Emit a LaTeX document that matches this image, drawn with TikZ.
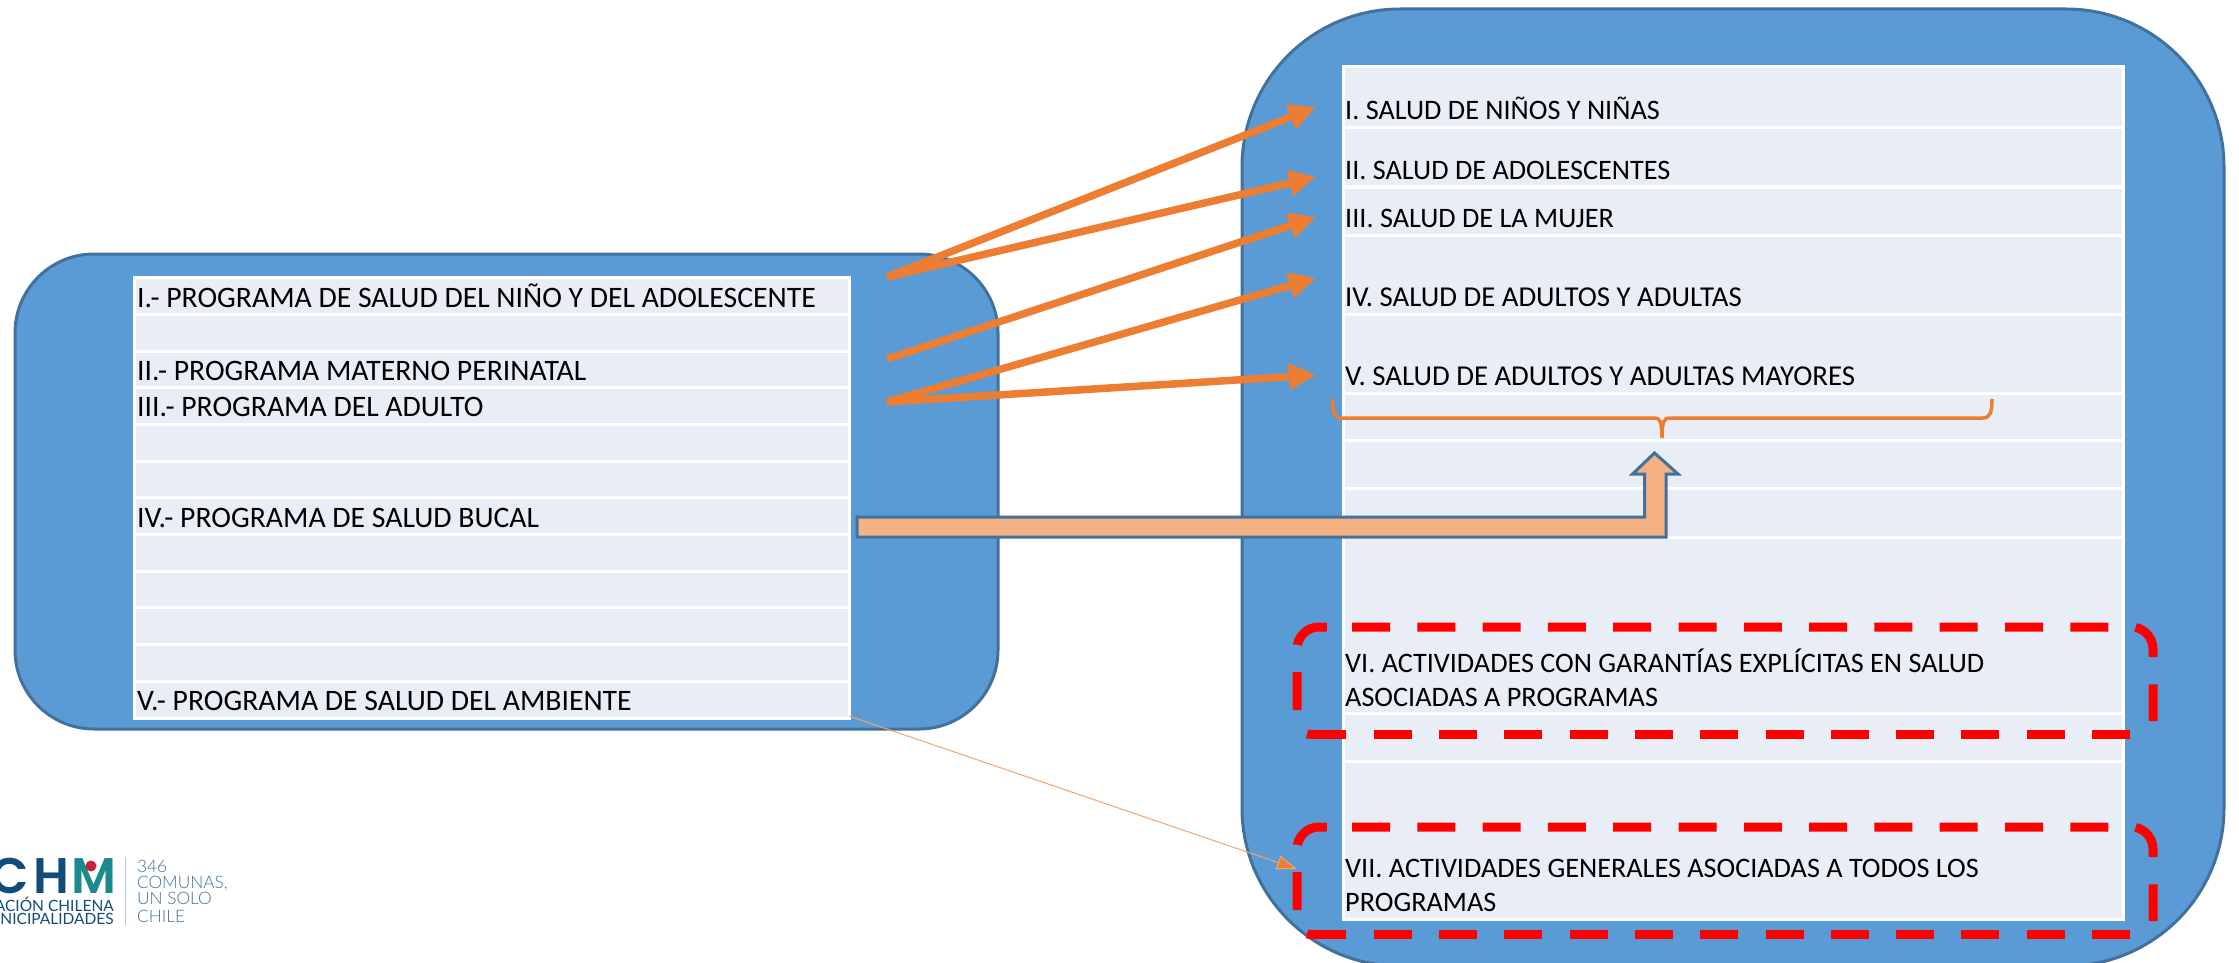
\documentclass[tikz,border=0pt]{standalone}
\usepackage{fontspec}
\setmainfont{Carlito}
\newfontfamily\logobold{Poppins SemiBold}
\newfontfamily\logomid{Lato}
\newfontfamily\logolight{Lato Light}
\usetikzlibrary{arrows.meta}
\definecolor{boxblue}{HTML}{5B9BD5}
\definecolor{boxedge}{HTML}{41719C}
\definecolor{rowfill}{HTML}{E9EDF6}
\definecolor{arrorange}{HTML}{ED7D31}
\definecolor{bentfill}{HTML}{F4B183}
\definecolor{logoblue}{HTML}{0F4C7B}
\definecolor{logoteal}{HTML}{1B8A8F}
\definecolor{logored}{HTML}{C8203C}
\definecolor{logotext}{HTML}{3F6E9E}
\definecolor{logorule}{HTML}{B5C7DC}
\tikzset{
  panel/.style={fill=boxblue,draw=boxedge,line width=3pt},
  rowcell/.style={fill=rowfill,draw=white,line width=3pt},
  rowtext/.style={anchor=base west,inner sep=0pt,font=\fontsize{28.2}{34}\selectfont,text=black},
  widetext/.style={rowtext,font=\fontsize{28.8}{34}\selectfont},
  lefttext/.style={rowtext,font=\fontsize{29.7}{34}\selectfont},
  fatarrow/.style={draw=arrorange,line width=7.5pt,-{Triangle[length=27pt,width=25pt]}},
  thinarrow/.style={draw=arrorange!70,line width=1pt,-{Triangle[length=20pt,width=14pt,fill=arrorange]}},
  bentarrow/.style={fill=bentfill,draw=boxedge,line width=3pt,miter limit=4},
  bracestroke/.style={draw=arrorange,line width=3.5pt},
  reddash/.style={draw=red,line width=9pt,dash pattern=on 38pt off 27.3pt},
  logoc/.style={anchor=base east,inner sep=0pt,font=\logobold\fontsize{50}{50}\selectfont},
  logosmall/.style={anchor=base east,inner sep=0pt,font=\logomid\fontsize{15.5}{18}\selectfont,text=logoblue},
  logoline/.style={anchor=base west,inner sep=0pt,font=\logolight\fontsize{17.2}{20}\selectfont,text=logotext}
}
\begin{document}
\begin{tikzpicture}[x=1pt,y=-1pt]
\useasboundingbox (0,0) rectangle (2239,963);
\clip (0,0) rectangle (2239,963);
% panels
\draw[panel,rounded corners=79pt] (15,254) rectangle (998,729);
\draw[panel,rounded corners=158pt] (1242,9) rectangle (2224,966);
% left table
\foreach \a/\b in {277/314,314/351,351/387,387/424,424/461,461/497,497/534,534/571,571/607,607/644,644/681,681/718}
  \path[rowcell] (134.5,\a) rectangle (849,\b);
% right table
\foreach \a/\b in {67/128,128/187,187/235,235/314,314/393,393/440,440/488,488/537,537/713,713/761,761/919}
  \path[rowcell] (1343,\a) rectangle (2123,\b);
% left texts
\node[lefttext] (l1) at (137,307) {I.- PROGRAMA DE SALUD DEL NIÑO Y DEL ADOLESCENTE};
\node[lefttext] (l2) at (137,380) {II.- PROGRAMA MATERNO PERINATAL};
\node[lefttext] (l3) at (137,416) {III.- PROGRAMA DEL ADULTO};
\node[lefttext] (l4) at (137,527) {IV.- PROGRAMA DE SALUD BUCAL};
\node[lefttext] (l5) at (137,710) {V.- PROGRAMA DE SALUD DEL AMBIENTE};
% right texts
\node[rowtext] (r1) at (1345,120) {I. SALUD DE NIÑOS Y NIÑAS};
\node[rowtext] (r2) at (1345,179) {II. SALUD DE ADOLESCENTES};
\node[rowtext] (r3) at (1345,227) {III. SALUD DE LA MUJER};
\node[widetext] (r4) at (1345,306) {IV. SALUD DE ADULTOS Y ADULTAS};
\node[widetext] (r5) at (1345,385) {V. SALUD DE ADULTOS Y ADULTAS MAYORES};
\node[rowtext] (r6a) at (1345,672) {VI. ACTIVIDADES CON GARANTÍAS EXPLÍCITAS EN SALUD};
\node[rowtext] (r6b) at (1345,706) {ASOCIADAS A PROGRAMAS};
\node[rowtext] (r7a) at (1345,877) {VII. ACTIVIDADES GENERALES ASOCIADAS A TODOS LOS};
\node[rowtext] (r7b) at (1345,911) {PROGRAMAS};
% connector ends
\coordinate (s1) at (887,277);
\coordinate (s2) at (887,359);
\coordinate (s3) at (887,402);
\coordinate (t1) at (1316,107);
\coordinate (t2) at (1316,177);
\coordinate (t3) at (1316,217);
\coordinate (t4) at (1316,278);
\coordinate (t5) at (1316,375);
\coordinate (s4) at (849,716);
\coordinate (t6) at (1297,869);
% fat arrows
\draw[fatarrow] (s1) -- (t1);
\draw[fatarrow] (s1) -- (t2);
\draw[fatarrow] (s2) -- (t3);
\draw[fatarrow] (s3) -- (t4);
\draw[fatarrow] (s3) -- (t5);
\draw[thinarrow] (s4) -- (t6);
% bent up arrow
\draw[bentarrow] (857,517) -- (1644.5,517) -- (1644.5,474) -- (1632.5,474) -- (1654.5,453) -- (1678,474) -- (1666,474) -- (1666,537) -- (857,537) -- cycle;
% brace
\draw[bracestroke] (1332.5,399) .. controls (1332.5,412) and (1334,418) .. (1342,418) -- (1655,418) .. controls (1660,418) and (1662,422) .. (1662,438) .. controls (1662,422) and (1664,418) .. (1669,418) -- (1983,418) .. controls (1990,418) and (1992,412) .. (1992,399);
% red dashed frames
\foreach \t/\b in {627/734,827/934}{
  \draw[reddash,rounded corners=22pt] (1352,\t) -- (2153,\t) -- (2153,\t+94);
  \draw[reddash] (2130,\b) -- (1310,\b);
  \fill[red] (1311,\b-4.5) -- (1308,\b-4.5) -- (1306,\b+4.5) -- (1311,\b+4.5) -- cycle;
  \draw[reddash,rounded corners=22pt] (1297,\t+83) -- (1297,\t) -- (1327,\t);
}
% logo
\node[logoc,text=logoblue] (logoC) at (29,893) {C};
\node[logoc,text=logoblue] (logoH) at (70,893) {H};
\node[logoc,text=logoteal] (logoM) at (117,893) {M};
\fill[logored] (91,866) circle (5.5pt);
\node[logosmall] (logoa) at (114,911) {ACIÓN CHILENA};
\node[logosmall] (logob) at (114,924) {UNICIPALIDADES};
\draw[logorule,line width=1pt] (125,857) -- (125,925);
\node[logoline] (logo1) at (137,872) {346};
\node[logoline] (logo2) at (137,888) {COMUNAS,};
\node[logoline] (logo3) at (137,904) {UN SOLO};
\node[logoline] (logo4) at (137,922) {CHILE};
\end{tikzpicture}
\end{document}
